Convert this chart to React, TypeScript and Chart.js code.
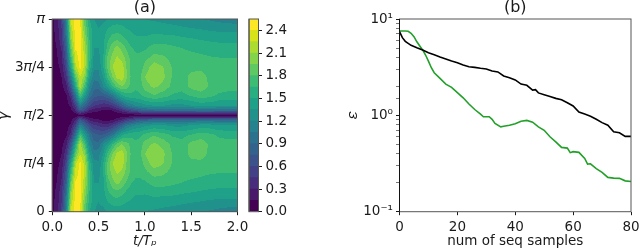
import React, { useEffect, useRef } from "react";
import { Chart, registerables } from "chart.js";

Chart.register(...registerables);

const FONT = "'DejaVu Sans'";
const INK = "#1a1a1a";
const SPINE = "#555555";
const TICK_PX = 13.5;

// ---- panel (a): surface samples ----
const tValues = [0, 0.05, 0.1, 0.15, 0.2, 0.25, 0.3, 0.35, 0.4, 0.45, 0.5, 0.55, 0.6, 0.65, 0.7, 0.75, 0.8, 0.85, 0.9, 0.95, 1.0, 1.1, 1.2, 1.3, 1.4, 1.5, 1.6, 1.7, 1.8, 1.9, 2.0];
// distance from gamma = pi/2, as a fraction of pi/2 (the surface is mirrored about pi/2)
const gammaOffsets = [0, 0.02, 0.05, 0.1, 0.2, 0.3, 0.4, 0.5, 0.6, 0.7, 0.8, 0.9, 1.0];
const surfaceRows = [
  [0.02, 0.02, 0.02, 0.02, 0.03, 0.04, 0.1, 0.08, 0.06, 0.04, 0.03, 0.02, 0.02, 0.02, 0.03, 0.03, 0.04, 0.04, 0.05, 0.05, 0.05, 0.05, 0.05, 0.05, 0.05, 0.05, 0.05, 0.05, 0.05, 0.05, 0.05],
  [0.01, 0.01, 0.02, 0.03, 0.06, 0.15, 0.35, 0.2, 0.12, 0.1, 0.08, 0.05, 0.05, 0.06, 0.1, 0.15, 0.2, 0.25, 0.3, 0.3, 0.35, 0.4, 0.4, 0.4, 0.4, 0.4, 0.4, 0.4, 0.4, 0.4, 0.4],
  [0.02, 0.02, 0.03, 0.05, 0.1, 0.3, 0.75, 0.55, 0.3, 0.2, 0.18, 0.12, 0.12, 0.15, 0.25, 0.35, 0.5, 0.6, 0.7, 0.8, 0.85, 0.9, 0.9, 0.9, 0.9, 0.9, 0.95, 0.95, 0.9, 0.9, 0.9],
  [0.02, 0.03, 0.04, 0.07, 0.18, 0.5, 1.1, 0.85, 0.6, 0.45, 0.42, 0.35, 0.35, 0.45, 0.6, 0.8, 1.0, 1.1, 1.2, 1.25, 1.3, 1.35, 1.35, 1.3, 1.3, 1.35, 1.4, 1.4, 1.35, 1.35, 1.35],
  [0.02, 0.04, 0.07, 0.12, 0.35, 0.95, 1.75, 1.35, 1.0, 0.8, 0.75, 0.75, 0.85, 1.0, 1.25, 1.45, 1.55, 1.6, 1.6, 1.62, 1.68, 1.78, 1.7, 1.62, 1.6, 1.65, 1.72, 1.68, 1.62, 1.6, 1.6],
  [0.03, 0.05, 0.1, 0.25, 0.7, 1.5, 2.2, 1.75, 1.2, 0.95, 0.95, 1.2, 1.4, 1.65, 1.85, 1.95, 1.88, 1.75, 1.68, 1.72, 1.88, 1.98, 1.9, 1.75, 1.7, 1.85, 1.9, 1.78, 1.72, 1.7, 1.7],
  [0.03, 0.07, 0.15, 0.4, 1.05, 1.85, 2.25, 2.05, 1.4, 1.1, 1.15, 1.35, 1.7, 1.95, 2.15, 2.2, 1.98, 1.78, 1.68, 1.78, 1.95, 2.1, 1.98, 1.78, 1.72, 1.85, 1.88, 1.76, 1.72, 1.72, 1.72],
  [0.04, 0.1, 0.2, 0.55, 1.45, 2.2, 2.45, 2.2, 1.6, 1.25, 1.22, 1.5, 1.85, 2.1, 2.25, 2.2, 1.95, 1.75, 1.68, 1.72, 1.85, 2.05, 1.95, 1.78, 1.7, 1.75, 1.75, 1.72, 1.7, 1.7, 1.7],
  [0.05, 0.13, 0.27, 0.7, 1.7, 2.3, 2.48, 2.2, 1.7, 1.3, 1.3, 1.5, 1.85, 2.0, 2.12, 2.05, 1.9, 1.75, 1.68, 1.68, 1.75, 1.85, 1.82, 1.74, 1.7, 1.7, 1.68, 1.66, 1.65, 1.65, 1.65],
  [0.06, 0.16, 0.32, 0.8, 1.9, 2.42, 2.48, 2.15, 1.7, 1.35, 1.35, 1.45, 1.72, 1.9, 2.0, 1.9, 1.78, 1.66, 1.62, 1.62, 1.62, 1.72, 1.72, 1.68, 1.65, 1.62, 1.6, 1.58, 1.56, 1.55, 1.55],
  [0.08, 0.2, 0.4, 0.95, 2.05, 2.45, 2.48, 2.05, 1.65, 1.4, 1.35, 1.45, 1.62, 1.72, 1.75, 1.7, 1.62, 1.55, 1.52, 1.52, 1.52, 1.55, 1.55, 1.55, 1.52, 1.5, 1.48, 1.46, 1.45, 1.45, 1.45],
  [0.1, 0.22, 0.45, 1.05, 2.15, 2.47, 2.45, 1.95, 1.6, 1.4, 1.35, 1.4, 1.5, 1.55, 1.58, 1.55, 1.5, 1.48, 1.45, 1.45, 1.42, 1.45, 1.42, 1.4, 1.38, 1.36, 1.34, 1.32, 1.3, 1.3, 1.3],
  [0.1, 0.25, 0.5, 1.15, 2.3, 2.47, 2.42, 1.85, 1.5, 1.35, 1.3, 1.3, 1.35, 1.4, 1.4, 1.4, 1.4, 1.4, 1.35, 1.35, 1.35, 1.32, 1.3, 1.28, 1.25, 1.22, 1.2, 1.18, 1.15, 1.12, 1.1],
];
const levelStep = 0.15;
const levelColors = ["#440154", "#48186a", "#472d7b", "#424086", "#3b528b", "#33638d", "#2c728e", "#26828e", "#21918c", "#1fa088", "#28ae80", "#3fbc73", "#5ec962", "#84d44b", "#addc30", "#d8e219", "#fde725"];
const tTicks = [0, 0.5, 1, 1.5, 2];
const gammaTicks = [0, Math.PI / 4, Math.PI / 2, (3 * Math.PI) / 4, Math.PI];
const gammaLabels = ["0", "\u{1D70B}/4", "\u{1D70B}/2", "3\u{1D70B}/4", "\u{1D70B}"];

// ---- panel (b): error curves ----
const blackN = [0, 1, 2, 4, 6, 8, 10, 12, 14, 16, 18, 20, 22, 24, 26, 28, 30, 32, 34, 36, 38, 40, 42, 44, 46, 47, 48, 50, 52, 54, 56, 58, 60, 62, 64, 66, 68, 70, 72, 74, 76, 78, 80];
const blackErr = [7.38, 6.4, 5.87, 5.33, 5.03, 4.77, 4.47, 4.26, 4.03, 3.84, 3.66, 3.52, 3.33, 3.2, 3.15, 3.08, 3.03, 2.88, 2.82, 2.56, 2.46, 2.33, 2.11, 2.05, 1.83, 1.85, 1.71, 1.64, 1.57, 1.5, 1.45, 1.35, 1.25, 1.08, 1.03, 0.98, 0.91, 0.84, 0.79, 0.676, 0.66, 0.605, 0.605];
const greenN = [0, 2, 3, 4, 5, 6, 7, 8, 9, 10, 11, 12, 14, 16, 18, 20, 22, 24, 26, 28, 29, 31, 32, 33, 35, 36, 38, 40, 42, 44, 46, 48, 50, 52, 54, 56, 58, 59, 60, 62, 64, 65, 66, 68, 70, 72, 74, 76, 78, 80];
const greenErr = [7.5, 7.5, 7.45, 7.1, 6.55, 5.8, 5.25, 4.77, 4.23, 3.66, 3.12, 2.77, 2.42, 2.11, 1.95, 1.72, 1.52, 1.31, 1.15, 1.03, 0.967, 0.967, 0.91, 0.826, 0.76, 0.77, 0.79, 0.82, 0.87, 0.887, 0.85, 0.76, 0.7, 0.6, 0.53, 0.465, 0.457, 0.41, 0.42, 0.413, 0.357, 0.312, 0.314, 0.28, 0.256, 0.227, 0.223, 0.222, 0.209, 0.206];
const nTicks = [0, 20, 40, 60, 80];
const errMajor = [0.1, 1, 10];
const errLabels = ["10\u207B\u00B9", "10\u2070", "10\u00B9"];
const barTicks = [0, 0.3, 0.6, 0.9, 1.2, 1.5, 1.8, 2.1, 2.4];

const W = 640;
const H = 251;
const A = { left: 52.3, right: 237.5, top: 19, bottom: 211.7 };
const C = { left: 249, right: 258.5 };
const B = { left: 399.5, right: 631 };

const bracket = (arr: number[], v: number) => {
  let i = 0;
  while (i < arr.length - 2 && arr[i + 1] <= v) i++;
  const f = Math.min(1, Math.max(0, (v - arr[i]) / (arr[i + 1] - arr[i])));
  return [i, f];
};
const surfaceAt = (t: number, d: number) => {
  const [i, fi] = bracket(tValues, t);
  const [j, fj] = bracket(gammaOffsets, d);
  const a = surfaceRows[j][i] * (1 - fi) + surfaceRows[j][i + 1] * fi;
  const b = surfaceRows[j + 1][i] * (1 - fi) + surfaceRows[j + 1][i + 1] * fi;
  return a * (1 - fj) + b * fj;
};
const bandColor = (v: number) => levelColors[Math.min(levelColors.length - 1, Math.max(0, Math.floor(v / levelStep)))];

const spines = (leftColor: string) => ({
  id: "spines",
  afterDatasetsDraw(chart: any) {
    const { ctx, chartArea: a } = chart;
    ctx.save();
    ctx.lineWidth = 1;
    ctx.strokeStyle = SPINE;
    ctx.strokeRect(a.left, a.top, a.right - a.left, a.bottom - a.top);
    ctx.strokeStyle = leftColor;
    ctx.beginPath();
    ctx.moveTo(a.left, a.top);
    ctx.lineTo(a.left, a.bottom);
    ctx.stroke();
    ctx.restore();
  },
});

// filled contours of the surface, located through the chart's own scales
const contourFill = {
  id: "contourFill",
  afterDatasetsDraw(chart: any) {
    const { ctx, chartArea: a, scales } = chart;
    ctx.save();
    for (let py = Math.floor(a.top); py < Math.ceil(a.bottom); py++) {
      const g = scales.y.getValueForPixel(py + 0.5);
      const d = Math.abs(g - Math.PI / 2) / (Math.PI / 2);
      let start = Math.floor(a.left);
      let cur = "";
      for (let px = Math.floor(a.left); px <= Math.ceil(a.right); px++) {
        const col = px === Math.ceil(a.right) ? "end" : bandColor(surfaceAt(scales.x.getValueForPixel(px + 0.5), d));
        if (col !== cur) {
          if (cur && cur !== "end") {
            ctx.fillStyle = cur;
            ctx.fillRect(start, py, px - start, 1);
          }
          cur = col;
          start = px;
        }
      }
    }
    ctx.restore();
  },
};

const tickFont = { family: FONT, size: TICK_PX };
const titleCfg = (text: string) => ({
  display: true,
  text,
  fullSize: false,
  color: INK,
  font: { family: FONT, size: 16, weight: "normal" as const, lineHeight: "15px" },
  padding: { top: 0, bottom: 4 },
});
const axisGrid = { drawOnChartArea: false, drawTicks: true, tickLength: 3.5, tickColor: INK, tickWidth: 1 };
const fitBottomAxis = (s: any) => {
  s.height = H - A.bottom;
  s.paddingLeft = 0;
  s.paddingRight = 0;
};

export default function App() {
  const aRef = useRef<HTMLCanvasElement>(null);
  const cRef = useRef<HTMLCanvasElement>(null);
  const bRef = useRef<HTMLCanvasElement>(null);

  useEffect(() => {
    const nodes = gammaOffsets.flatMap((d, j) =>
      tValues.flatMap((t, i) => [
        { x: t, y: (Math.PI / 2) * (1 + d), v: surfaceRows[j][i] },
        { x: t, y: (Math.PI / 2) * (1 - d), v: surfaceRows[j][i] },
      ])
    );
    const chartA = new Chart(aRef.current!, {
      type: "scatter",
      data: {
        datasets: [
          {
            data: nodes,
            pointStyle: "rect",
            pointRadius: 6,
            pointBorderWidth: 0,
            pointBackgroundColor: (c: any) => bandColor(c.raw?.v ?? 0),
          },
        ],
      },
      options: {
        responsive: false,
        animation: false,
        events: [],
        layout: { padding: { left: 0, top: 0, right: W - A.right, bottom: 0 } },
        plugins: { legend: { display: false }, tooltip: { enabled: false }, title: titleCfg("(a)") },
        scales: {
          x: {
            type: "linear",
            min: 0,
            max: 2,
            afterFit: fitBottomAxis,
            afterBuildTicks: (s: any) => { s.ticks = tTicks.map((value) => ({ value })); },
            grid: axisGrid,
            border: { display: false },
            ticks: { font: tickFont, color: INK, padding: 4, maxRotation: 0, autoSkip: false, callback: (v: any) => Number(v).toFixed(1) },
            title: { display: true, text: "t/T\u209A", color: INK, font: { family: FONT, size: 13.5, style: "italic", lineHeight: 1.2 }, padding: { top: 0, bottom: 1 } },
          },
          y: {
            type: "linear",
            min: 0,
            max: Math.PI,
            afterFit: (s: any) => { s.width = A.left; },
            afterBuildTicks: (s: any) => { s.ticks = gammaTicks.map((value) => ({ value })); },
            grid: axisGrid,
            border: { display: false },
            ticks: { font: tickFont, color: INK, padding: 4, autoSkip: false, callback: (_: any, i: number) => gammaLabels[i] },
            title: { display: true, text: "\u{1D6FE}", color: INK, font: { family: FONT, size: 15, lineHeight: 0.6 }, padding: 0 },
          },
        },
      },
      plugins: [contourFill, spines(SPINE)],
    } as any);

    const chartC = new Chart(cRef.current!, {
      type: "bar",
      data: {
        labels: ["levels"],
        datasets: levelColors.map((color) => ({ data: [levelStep], backgroundColor: color, borderWidth: 0, barPercentage: 1, categoryPercentage: 1, stack: "s" })),
      },
      options: {
        responsive: false,
        animation: false,
        events: [],
        layout: { padding: { left: C.left, top: A.top, right: W - C.right - 40, bottom: H - A.bottom } },
        plugins: { legend: { display: false }, tooltip: { enabled: false } },
        scales: {
          x: { display: false, stacked: true },
          y: {
            position: "right",
            stacked: true,
            min: 0,
            max: levelStep * levelColors.length,
            afterFit: (s: any) => { s.width = 40; },
            afterBuildTicks: (s: any) => { s.ticks = barTicks.map((value) => ({ value })); },
            grid: axisGrid,
            border: { display: false },
            ticks: { font: tickFont, color: INK, padding: 3.5, autoSkip: false, callback: (v: any) => Number(v).toFixed(1) },
          },
        },
      },
      plugins: [spines(SPINE)],
    } as any);

    const chartB = new Chart(bRef.current!, {
      type: "line",
      data: {
        datasets: [
          { data: blackN.map((x, i) => ({ x, y: blackErr[i] })), borderColor: "#000000", borderWidth: 1.6, pointRadius: 0, tension: 0 },
          { data: greenN.map((x, i) => ({ x, y: greenErr[i] })), borderColor: "#22a02a", borderWidth: 1.6, pointRadius: 0, tension: 0 },
        ],
      },
      options: {
        responsive: false,
        animation: false,
        events: [],
        layout: { padding: { left: 350, top: 0, right: W - B.right, bottom: 0 } },
        plugins: { legend: { display: false }, tooltip: { enabled: false }, title: titleCfg("(b)") },
        scales: {
          x: {
            type: "linear",
            min: 0,
            max: 80,
            afterFit: fitBottomAxis,
            afterBuildTicks: (s: any) => { s.ticks = nTicks.map((value) => ({ value })); },
            grid: axisGrid,
            border: { display: false },
            ticks: { font: tickFont, color: INK, padding: 4, maxRotation: 0, autoSkip: false },
            title: { display: true, text: "num of seq samples", color: INK, font: { family: FONT, size: 13.5, lineHeight: 1.2 }, padding: { top: 0, bottom: 1 } },
          },
          y: {
            type: "logarithmic",
            min: 0.1,
            max: 10,
            afterFit: (s: any) => { s.width = B.left - 350; s.paddingTop = 0; s.paddingBottom = 0; },
            grid: {
              ...axisGrid,
              tickWidth: (c: any) => (errMajor.some((m) => Math.abs(m - c.tick?.value) < 1e-9) ? 1 : 0.6),
            },
            border: { display: false },
            ticks: {
              font: tickFont,
              color: INK,
              padding: 3,
              autoSkip: false,
              callback: (v: any) => {
                const k = errMajor.findIndex((m) => Math.abs(m - v) < 1e-9);
                return k >= 0 ? errLabels[k] : "";
              },
            },
            title: { display: true, text: "\u{1D700}", color: INK, font: { family: FONT, size: 15, lineHeight: 0.4 }, padding: 0 },
          },
        },
      },
      plugins: [spines("#111111")],
    } as any);

    return () => {
      chartA.destroy();
      chartC.destroy();
      chartB.destroy();
    };
  }, []);

  const layer: React.CSSProperties = { position: "absolute", left: 0, top: 0 };
  return (
    <div style={{ position: "fixed", left: 0, top: 0, width: W, height: H, background: "#fff", overflow: "hidden" }}>
      <canvas ref={aRef} width={W} height={H} style={layer} />
      <canvas ref={cRef} width={W} height={H} style={layer} />
      <canvas ref={bRef} width={W} height={H} style={layer} />
    </div>
  );
}
